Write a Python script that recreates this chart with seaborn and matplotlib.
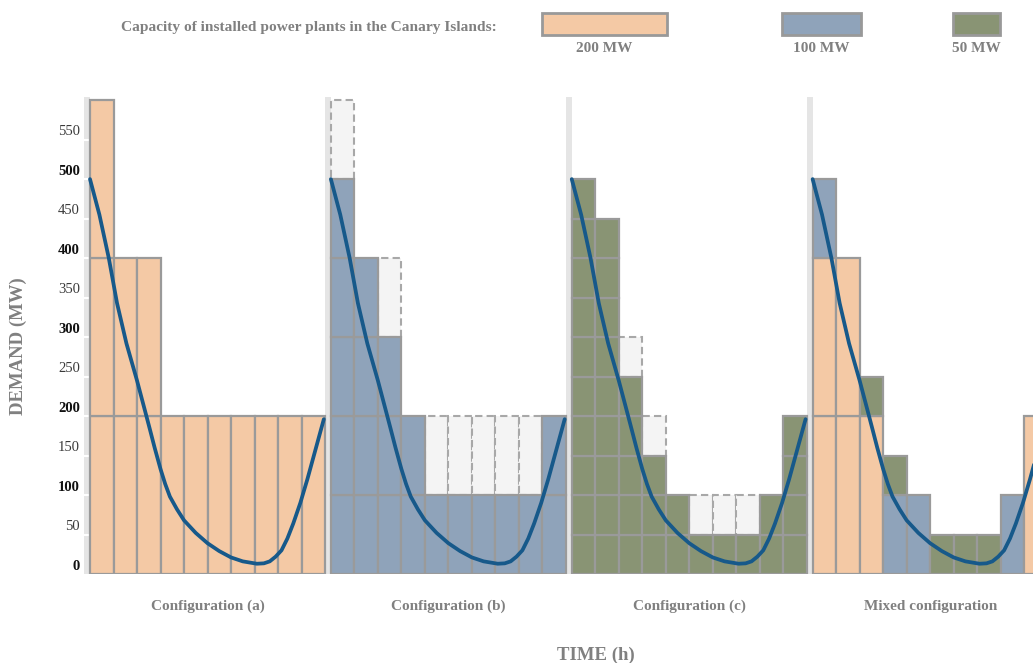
import numpy as np
import pandas as pd
import matplotlib
matplotlib.use('Agg')
import matplotlib.pyplot as plt
from matplotlib.patches import Rectangle
import seaborn as sns

# demand curve (same for every configuration), hours vs MW
hours = [0, 0.4, 0.8, 1.15, 1.55, 2.0, 2.4, 2.55, 2.75, 3.0, 3.2, 3.4, 3.7, 4.0, 4.5, 5.0,
         5.5, 6.0, 6.5, 7.1, 7.4, 7.65, 7.9, 8.15, 8.4, 8.65, 8.95, 9.25, 9.6, 9.95]
demand = [500, 455, 400, 343, 292, 245, 200, 183, 160, 133, 114, 98, 82, 68, 52, 39,
          29, 21, 16, 13, 13.5, 16, 22, 30, 45, 64, 90, 120, 158, 196]

# unit capacities stacked per hour (bottom -> top) and spare (unused) blocks on top
config_a = [[200, 200, 200], [200, 200], [200, 200], [200], [200], [200], [200], [200], [200], [200]]
spare_a = [[]] * 10
config_b = [[100] * 5, [100] * 4, [100] * 3, [100] * 2, [100], [100], [100], [100], [100], [100] * 2]
spare_b = [[100], [], [100], [], [100], [100], [100], [100], [100], []]
config_c = [[50] * 10, [50] * 9, [50] * 5, [50] * 3, [50] * 2, [50], [50], [50], [50] * 2, [50] * 4]
spare_c = [[], [], [50], [50], [], [50], [50], [50], [], []]
config_mixed = [[200, 200, 100], [200, 200], [200, 50], [100, 50], [100], [50], [50], [50], [100], [200]]
spare_mixed = [[]] * 10

panel_labels = ['Configuration (a)', 'Configuration (b)', 'Configuration (c)', 'Mixed configuration']
capacities = [200, 100, 50]
cap_labels = ['200 MW', '100 MW', '50 MW']
ytick_vals = list(range(0, 600, 50))

colors = {200: '#f4c9a5', 100: '#8fa3ba', 50: '#899474'}
edge = '#9a9a9a'
curve_color = '#17598a'
text_gray = '#808080'

sns.set_theme(style='white')
plt.rcParams['font.family'] = ['Liberation Serif', 'DejaVu Serif']
plt.rcParams['font.weight'] = 'bold'

W, H = 1033, 663
fig = plt.figure(figsize=(W / 100, H / 100), dpi=100)

# axes: x in hours (23.5 px / h), panel a bars start at 90 px; y 0 MW at 574 px
x0_px, px_per_h = 90, 23.5
gap = 0.25
pitch = 10 + gap
xlim = (-gap, 41)
ax_left = x0_px + xlim[0] * px_per_h
ax_right = x0_px + xlim[1] * px_per_h
ax = fig.add_axes([ax_left / W, (H - 574) / H, (ax_right - ax_left) / W, 477 / H])
ax.set_xlim(*xlim)
ax.set_ylim(0, 604)

configs = [(config_a, spare_a), (config_b, spare_b), (config_c, spare_c), (config_mixed, spare_mixed)]

for p, (units, spares) in enumerate(configs):
    start = p * pitch
    ax.axvspan(start - gap, start, color='#e5e5e5', lw=0, zorder=0)
    if p == 0:
        ax.hlines(ytick_vals[1:], start - gap, start, color='white', lw=1.5, zorder=1)
    for h, stack in enumerate(units):
        top = sum(stack)
        for cap in spares[h]:
            ax.bar(start + h + 0.5, cap, bottom=top, width=1, color='#f4f4f4',
                   edgecolor='#a8a8a8', lw=1.5, ls=(0, (3.5, 2)), zorder=2)
            top += cap
    for h, stack in enumerate(units):
        bottom = 0
        for cap in stack:
            ax.bar(start + h + 0.5, cap, bottom=bottom, width=1, color=colors[cap],
                   edgecolor=edge, lw=1.6, zorder=3)
            bottom += cap
    ax.text(start + 5, -41, panel_labels[p], ha='center', va='center',
            fontsize=11, color=text_gray, fontweight='bold')

curve = pd.concat([pd.DataFrame({'hour': np.array(hours) + p * pitch, 'MW': demand, 'panel': p})
                   for p in range(4)])
sns.lineplot(data=curve, x='hour', y='MW', units='panel', estimator=None,
             color=curve_color, lw=2.7, ax=ax, zorder=5)

# y tick labels sit a little above their grid value in the original
ax.set_yticks([v + 12 for v in ytick_vals])
ax.set_yticklabels([str(v) for v in ytick_vals])
for v, lab in zip(ytick_vals, ax.get_yticklabels()):
    lab.set_fontsize(10.5)
    if v % 100 == 0:
        lab.set_color('#111111')
        lab.set_fontweight('bold')
    else:
        lab.set_color('#3a3a3a')
        lab.set_fontweight('normal')
ax.tick_params(axis='y', length=0, pad=3)
ax.set_xticks([])
for s in ax.spines.values():
    s.set_visible(False)
ax.set_xlabel('')
ax.set_ylabel('')

fig.text(18 / W, 1 - 346 / H, 'DEMAND (MW)', rotation=90, ha='center', va='center',
         fontsize=13.5, color=text_gray, fontweight='bold')
fig.text(596 / W, 1 - 655 / H, 'TIME (h)', ha='center', va='center',
         fontsize=13.5, color=text_gray, fontweight='bold')

# legend strip on top
fig.text(497 / W, 1 - 27 / H, 'Capacity of installed power plants in the Canary Islands:',
         ha='right', va='center', fontsize=11.1, color=text_gray, fontweight='bold')
boxes = [(542, 667), (782, 861), (953, 1000)]
for cap, lab, (xa, xb) in zip(capacities, cap_labels, boxes):
    fig.add_artist(Rectangle((xa / W, 1 - 35 / H), (xb - xa) / W, 22.5 / H,
                             transform=fig.transFigure, facecolor=colors[cap],
                             edgecolor='#999999', lw=2))
    fig.text((xa + xb) / 2 / W, 1 - 48 / H, lab, ha='center', va='center',
             fontsize=11, color=text_gray, fontweight='bold')

fig.savefig('out.png', dpi=100)
